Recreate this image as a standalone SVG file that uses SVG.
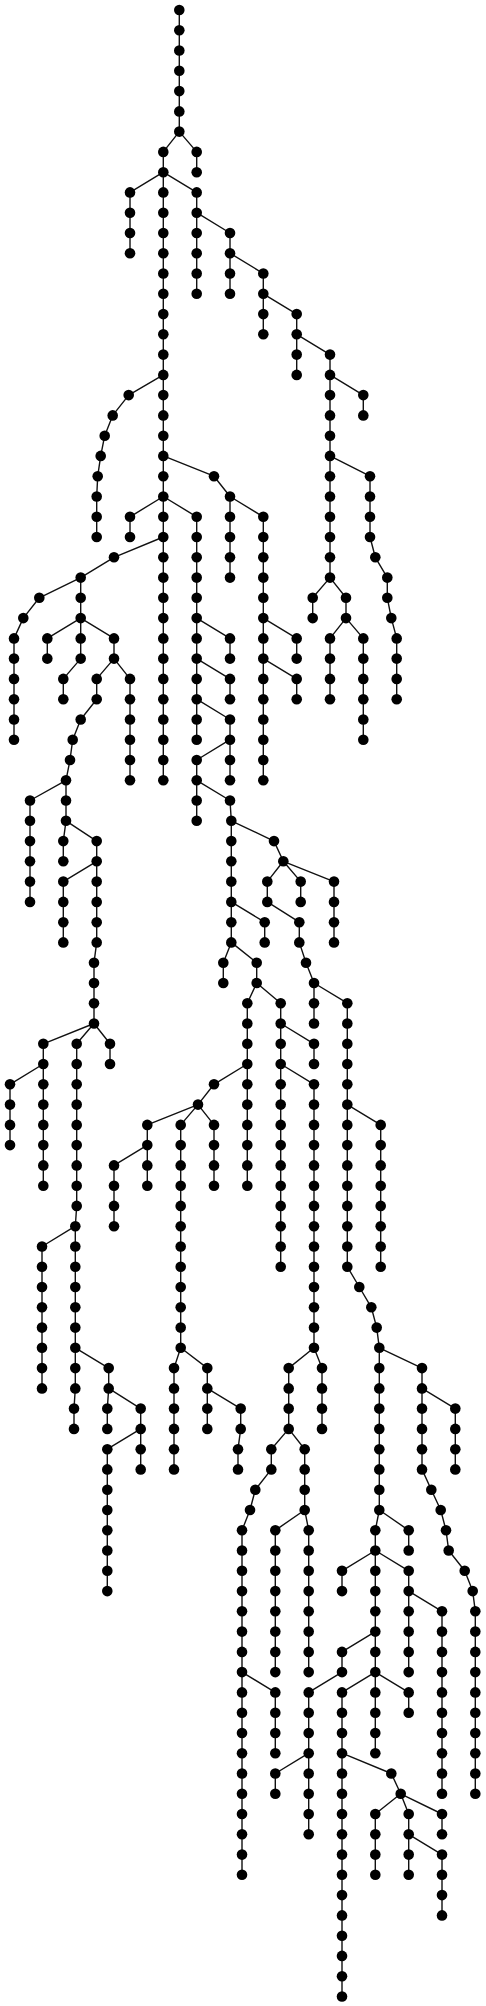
<svg xmlns="http://www.w3.org/2000/svg" width="486" height="2006" viewBox="0 0 486 2006">
<style>
.e path{fill:none;stroke:#111;stroke-width:1.4;stroke-linejoin:round}
.n circle{fill:#000}
</style>
<rect width="486" height="2006" fill="#fff"/>
<g class="e" id="edges">
<path d="M179.3 10 V131.6 L163.3 151.9 V780.3"/>
<path d="M179.3 131.6 L196.7 151.9 V172.2"/>
<path d="M163.3 172.2 L130 192.4 V253.2"/>
<path d="M163.3 172.2 L196.7 192.4 V293.8"/>
<path d="M196.7 212.7 L230 233 V293.8"/>
<path d="M230 253.2 L263.3 273.5 V334.3"/>
<path d="M263.3 293.8 L296.7 314.1 V374.9"/>
<path d="M296.7 334.3 L330 354.6 V577.6"/>
<path d="M330 374.9 L363.3 395.1 V415.4"/>
<path d="M330 455.9 L370 476.2 V537 L375.3 557.3 L387.3 577.6 V597.8 L391.3 618.1 L396.7 638.4 V699.2"/>
<path d="M330 577.6 L312.7 597.8 V618.1"/>
<path d="M330 577.6 L346 597.8 V618.1 L330 638.4 V699.2"/>
<path d="M346 618.1 L363.3 638.4 V739.7"/>
<path d="M163.3 374.9 L128.7 395.1 L112.7 415.4 L104.7 435.7 L100.7 455.9 L97.7 476.2 L96.7 496.5 V537"/>
<path d="M163.3 455.9 L214 476.2 L230 496.5 V577.6"/>
<path d="M230 496.5 L263.3 516.8 V780.3"/>
<path d="M263.3 618.1 L296.7 638.4 V658.6"/>
<path d="M263.3 658.6 L296.7 678.9 V699.2"/>
<path d="M163.3 496.5 L130 516.8 V537"/>
<path d="M163.3 496.5 L196.7 516.8 V739.7"/>
<path d="M196.7 618.1 L230 638.4 V658.6"/>
<path d="M196.7 658.6 L230 678.9 V699.2"/>
<path d="M196.7 699.2 L230 719.5 V780.3"/>
<path d="M230 739.7 L196.7 760 V820.8"/>
<path d="M196.7 780.3 L230 800.5 L231.3 820.8 V942.4"/>
<path d="M163.3 537 L114 557.3 L80.7 577.6 L39.3 597.8 L23.3 618.1 L14 638.4 V739.7"/>
<path d="M80.7 577.6 V618.1"/>
<path d="M80.7 618.1 L47.3 638.4 V658.6"/>
<path d="M80.7 618.1 V658.6 L63.3 678.9 V699.2"/>
<path d="M80.7 618.1 L114 638.4 V658.6 L96.7 678.9 V699.2 L80.7 719.5 L72.7 739.7 L70 760 L66 780.3 V820.8 L63.3 841.1 V861.3"/>
<path d="M114 658.6 L130 678.9 V780.3"/>
<path d="M66 780.3 L30 800.5 V901.9"/>
<path d="M66 820.8 L96.7 841.1 V861.3 L63.3 881.6 V942.4"/>
<path d="M96.7 861.3 V942.4 L94 962.7 V1023.5"/>
<path d="M94 1023.5 L43.3 1043.8 V1064 L10 1084.3 V1145.1"/>
<path d="M43.3 1064 V1185.7"/>
<path d="M94 1023.5 L76.7 1043.8 V1205.9 L75.3 1226.2 L42 1246.5 V1388.4"/>
<path d="M75.3 1226.2 V1388.4 L74 1408.6 V1428.9"/>
<path d="M94 1023.5 L110 1043.8 V1064"/>
<path d="M75.3 1347.8 L108.7 1368.1 V1388.4 L107.3 1408.6 V1428.9"/>
<path d="M108.7 1388.4 L140.7 1408.6 V1469.4"/>
<path d="M140.7 1428.9 L107.3 1449.2 V1591.1"/>
<path d="M231.3 820.8 L274 841.1 L283.3 861.3 L267.3 881.6 V901.9 L299.3 922.2 V942.4 L306 962.7 L314 983 V1023.5"/>
<path d="M283.3 861.3 L300.7 881.6 V901.9"/>
<path d="M283.3 861.3 L334 881.6 V942.4"/>
<path d="M231.3 901.9 L264.7 922.2 V942.4"/>
<path d="M231.3 942.4 L223.3 962.7 V983"/>
<path d="M231.3 942.4 L256.7 962.7 V983 L247.3 1003.2 V1064 L214 1084.3 L198 1104.6 L147.3 1124.9 V1185.7"/>
<path d="M147.3 1145.1 L114 1165.4 V1226.2"/>
<path d="M198 1104.6 L180.7 1124.9 V1347.8 L174 1368.1 V1469.4"/>
<path d="M180.7 1347.8 L207.3 1368.1 V1428.9"/>
<path d="M207.3 1388.4 L240.7 1408.6 V1428.9 L238 1449.2 V1469.4"/>
<path d="M198 1104.6 L214 1124.9 V1185.7"/>
<path d="M247.3 1064 V1185.7"/>
<path d="M256.7 983 L280.7 1003.2 V1266.7"/>
<path d="M280.7 1023.5 L314 1043.8 V1064"/>
<path d="M280.7 1064 L314 1084.3 V1347.8 L288.7 1368.1 V1428.9 L271.3 1449.2 V1469.4 L255.3 1489.7 L250 1510 L242 1530.3 V1874.8"/>
<path d="M242 1672.1 L275.3 1692.4 V1753.2"/>
<path d="M288.7 1428.9 L304.7 1449.2 V1510 L275.3 1530.3 V1672.1"/>
<path d="M304.7 1510 L308.7 1530.3 V1672.1"/>
<path d="M314 1347.8 L322 1368.1 V1428.9"/>
<path d="M314 983 L347.3 1003.2 V1104.6 L380.7 1124.9 V1266.7"/>
<path d="M347.3 1104.6 V1266.7 L359.3 1287 L371.3 1307.3 L376.7 1327.6 L379.3 1347.8 V1510 L375.3 1530.3 V1550.5 L342 1570.8 V1591.1"/>
<path d="M379.3 1347.8 L422 1368.1 V1388.4 L455.3 1408.6 V1469.4"/>
<path d="M422 1388.4 V1469.4 L431.3 1489.7 L440.7 1510 L446 1530.3 L448.7 1550.5 L464.7 1570.8 L472.7 1591.1 L475.3 1611.3 V1793.8"/>
<path d="M379.3 1510 L408.7 1530.3 V1550.5"/>
<path d="M375.3 1550.5 V1631.6 L342 1651.9 V1672.1 L308.7 1692.4 V1753.2 L275.3 1773.5 V1793.8"/>
<path d="M308.7 1753.2 V1834.3"/>
<path d="M375.3 1631.6 V1672.1 L342 1692.4 V1996.5"/>
<path d="M375.3 1672.1 V1753.2"/>
<path d="M375.3 1672.1 L408.7 1692.4 V1712.7"/>
<path d="M342 1753.2 L391.3 1773.5 L400.7 1793.8 L375.3 1814 V1874.8"/>
<path d="M400.7 1793.8 L408.7 1814 V1874.8"/>
<path d="M408.7 1834.3 L442 1854.6 V1915.4"/>
<path d="M400.7 1793.8 L442 1814 V1834.3"/>
<path d="M375.3 1550.5 L408.7 1570.8 V1672.1"/>
<path d="M408.7 1591.1 L442 1611.3 V1793.8"/>
</g>
<g class="n" id="nodes">
<g id="n0-538"><circle cx="179.3" cy="10" r="5.3"/></g>
<g id="n1-538"><circle cx="179.3" cy="30.3" r="5.3"/></g>
<g id="n2-538"><circle cx="179.3" cy="50.5" r="5.3"/></g>
<g id="n3-538"><circle cx="179.3" cy="70.8" r="5.3"/></g>
<g id="n4-538"><circle cx="179.3" cy="91.1" r="5.3"/></g>
<g id="n5-538"><circle cx="179.3" cy="111.4" r="5.3"/></g>
<g id="n6-538"><circle cx="179.3" cy="131.6" r="5.3"/></g>
<g id="n7-590"><circle cx="196.7" cy="151.9" r="5.3"/></g>
<g id="n8-590"><circle cx="196.7" cy="172.2" r="5.3"/></g>
<g id="n7-490"><circle cx="163.3" cy="151.9" r="5.3"/></g>
<g id="n8-490"><circle cx="163.3" cy="172.2" r="5.3"/></g>
<g id="n9-490"><circle cx="163.3" cy="192.4" r="5.3"/></g>
<g id="n10-490"><circle cx="163.3" cy="212.7" r="5.3"/></g>
<g id="n11-490"><circle cx="163.3" cy="233" r="5.3"/></g>
<g id="n12-490"><circle cx="163.3" cy="253.2" r="5.3"/></g>
<g id="n13-490"><circle cx="163.3" cy="273.5" r="5.3"/></g>
<g id="n14-490"><circle cx="163.3" cy="293.8" r="5.3"/></g>
<g id="n15-490"><circle cx="163.3" cy="314.1" r="5.3"/></g>
<g id="n16-490"><circle cx="163.3" cy="334.3" r="5.3"/></g>
<g id="n17-490"><circle cx="163.3" cy="354.6" r="5.3"/></g>
<g id="n18-490"><circle cx="163.3" cy="374.9" r="5.3"/></g>
<g id="n19-490"><circle cx="163.3" cy="395.1" r="5.3"/></g>
<g id="n20-490"><circle cx="163.3" cy="415.4" r="5.3"/></g>
<g id="n21-490"><circle cx="163.3" cy="435.7" r="5.3"/></g>
<g id="n22-490"><circle cx="163.3" cy="455.9" r="5.3"/></g>
<g id="n23-490"><circle cx="163.3" cy="476.2" r="5.3"/></g>
<g id="n24-490"><circle cx="163.3" cy="496.5" r="5.3"/></g>
<g id="n25-490"><circle cx="163.3" cy="516.8" r="5.3"/></g>
<g id="n26-490"><circle cx="163.3" cy="537" r="5.3"/></g>
<g id="n27-490"><circle cx="163.3" cy="557.3" r="5.3"/></g>
<g id="n28-490"><circle cx="163.3" cy="577.6" r="5.3"/></g>
<g id="n29-490"><circle cx="163.3" cy="597.8" r="5.3"/></g>
<g id="n30-490"><circle cx="163.3" cy="618.1" r="5.3"/></g>
<g id="n31-490"><circle cx="163.3" cy="638.4" r="5.3"/></g>
<g id="n32-490"><circle cx="163.3" cy="658.6" r="5.3"/></g>
<g id="n33-490"><circle cx="163.3" cy="678.9" r="5.3"/></g>
<g id="n34-490"><circle cx="163.3" cy="699.2" r="5.3"/></g>
<g id="n35-490"><circle cx="163.3" cy="719.5" r="5.3"/></g>
<g id="n36-490"><circle cx="163.3" cy="739.7" r="5.3"/></g>
<g id="n37-490"><circle cx="163.3" cy="760" r="5.3"/></g>
<g id="n38-490"><circle cx="163.3" cy="780.3" r="5.3"/></g>
<g id="n9-390"><circle cx="130" cy="192.4" r="5.3"/></g>
<g id="n10-390"><circle cx="130" cy="212.7" r="5.3"/></g>
<g id="n11-390"><circle cx="130" cy="233" r="5.3"/></g>
<g id="n12-390"><circle cx="130" cy="253.2" r="5.3"/></g>
<g id="n9-590"><circle cx="196.7" cy="192.4" r="5.3"/></g>
<g id="n10-590"><circle cx="196.7" cy="212.7" r="5.3"/></g>
<g id="n11-590"><circle cx="196.7" cy="233" r="5.3"/></g>
<g id="n12-590"><circle cx="196.7" cy="253.2" r="5.3"/></g>
<g id="n13-590"><circle cx="196.7" cy="273.5" r="5.3"/></g>
<g id="n14-590"><circle cx="196.7" cy="293.8" r="5.3"/></g>
<g id="n11-690"><circle cx="230" cy="233" r="5.3"/></g>
<g id="n12-690"><circle cx="230" cy="253.2" r="5.3"/></g>
<g id="n13-690"><circle cx="230" cy="273.5" r="5.3"/></g>
<g id="n14-690"><circle cx="230" cy="293.8" r="5.3"/></g>
<g id="n13-790"><circle cx="263.3" cy="273.5" r="5.3"/></g>
<g id="n14-790"><circle cx="263.3" cy="293.8" r="5.3"/></g>
<g id="n15-790"><circle cx="263.3" cy="314.1" r="5.3"/></g>
<g id="n16-790"><circle cx="263.3" cy="334.3" r="5.3"/></g>
<g id="n15-890"><circle cx="296.7" cy="314.1" r="5.3"/></g>
<g id="n16-890"><circle cx="296.7" cy="334.3" r="5.3"/></g>
<g id="n17-890"><circle cx="296.7" cy="354.6" r="5.3"/></g>
<g id="n18-890"><circle cx="296.7" cy="374.9" r="5.3"/></g>
<g id="n17-990"><circle cx="330" cy="354.6" r="5.3"/></g>
<g id="n18-990"><circle cx="330" cy="374.9" r="5.3"/></g>
<g id="n19-990"><circle cx="330" cy="395.1" r="5.3"/></g>
<g id="n20-990"><circle cx="330" cy="415.4" r="5.3"/></g>
<g id="n21-990"><circle cx="330" cy="435.7" r="5.3"/></g>
<g id="n22-990"><circle cx="330" cy="455.9" r="5.3"/></g>
<g id="n23-990"><circle cx="330" cy="476.2" r="5.3"/></g>
<g id="n24-990"><circle cx="330" cy="496.5" r="5.3"/></g>
<g id="n25-990"><circle cx="330" cy="516.8" r="5.3"/></g>
<g id="n26-990"><circle cx="330" cy="537" r="5.3"/></g>
<g id="n27-990"><circle cx="330" cy="557.3" r="5.3"/></g>
<g id="n28-990"><circle cx="330" cy="577.6" r="5.3"/></g>
<g id="n19-1090"><circle cx="363.3" cy="395.1" r="5.3"/></g>
<g id="n20-1090"><circle cx="363.3" cy="415.4" r="5.3"/></g>
<g id="n23-1110"><circle cx="370" cy="476.2" r="5.3"/></g>
<g id="n24-1110"><circle cx="370" cy="496.5" r="5.3"/></g>
<g id="n25-1110"><circle cx="370" cy="516.8" r="5.3"/></g>
<g id="n26-1110"><circle cx="370" cy="537" r="5.3"/></g>
<g id="n27-1126"><circle cx="375.3" cy="557.3" r="5.3"/></g>
<g id="n28-1162"><circle cx="387.3" cy="577.6" r="5.3"/></g>
<g id="n29-1162"><circle cx="387.3" cy="597.8" r="5.3"/></g>
<g id="n30-1174"><circle cx="391.3" cy="618.1" r="5.3"/></g>
<g id="n31-1190"><circle cx="396.7" cy="638.4" r="5.3"/></g>
<g id="n32-1190"><circle cx="396.7" cy="658.6" r="5.3"/></g>
<g id="n33-1190"><circle cx="396.7" cy="678.9" r="5.3"/></g>
<g id="n34-1190"><circle cx="396.7" cy="699.2" r="5.3"/></g>
<g id="n29-938"><circle cx="312.7" cy="597.8" r="5.3"/></g>
<g id="n30-938"><circle cx="312.7" cy="618.1" r="5.3"/></g>
<g id="n29-1038"><circle cx="346" cy="597.8" r="5.3"/></g>
<g id="n30-1038"><circle cx="346" cy="618.1" r="5.3"/></g>
<g id="n31-990"><circle cx="330" cy="638.4" r="5.3"/></g>
<g id="n32-990"><circle cx="330" cy="658.6" r="5.3"/></g>
<g id="n33-990"><circle cx="330" cy="678.9" r="5.3"/></g>
<g id="n34-990"><circle cx="330" cy="699.2" r="5.3"/></g>
<g id="n31-1090"><circle cx="363.3" cy="638.4" r="5.3"/></g>
<g id="n32-1090"><circle cx="363.3" cy="658.6" r="5.3"/></g>
<g id="n33-1090"><circle cx="363.3" cy="678.9" r="5.3"/></g>
<g id="n34-1090"><circle cx="363.3" cy="699.2" r="5.3"/></g>
<g id="n35-1090"><circle cx="363.3" cy="719.5" r="5.3"/></g>
<g id="n36-1090"><circle cx="363.3" cy="739.7" r="5.3"/></g>
<g id="n19-386"><circle cx="128.7" cy="395.1" r="5.3"/></g>
<g id="n20-338"><circle cx="112.7" cy="415.4" r="5.3"/></g>
<g id="n21-314"><circle cx="104.7" cy="435.7" r="5.3"/></g>
<g id="n22-302"><circle cx="100.7" cy="455.9" r="5.3"/></g>
<g id="n23-293"><circle cx="97.7" cy="476.2" r="5.3"/></g>
<g id="n24-290"><circle cx="96.7" cy="496.5" r="5.3"/></g>
<g id="n25-290"><circle cx="96.7" cy="516.8" r="5.3"/></g>
<g id="n26-290"><circle cx="96.7" cy="537" r="5.3"/></g>
<g id="n23-642"><circle cx="214" cy="476.2" r="5.3"/></g>
<g id="n24-690"><circle cx="230" cy="496.5" r="5.3"/></g>
<g id="n25-690"><circle cx="230" cy="516.8" r="5.3"/></g>
<g id="n26-690"><circle cx="230" cy="537" r="5.3"/></g>
<g id="n27-690"><circle cx="230" cy="557.3" r="5.3"/></g>
<g id="n28-690"><circle cx="230" cy="577.6" r="5.3"/></g>
<g id="n25-790"><circle cx="263.3" cy="516.8" r="5.3"/></g>
<g id="n26-790"><circle cx="263.3" cy="537" r="5.3"/></g>
<g id="n27-790"><circle cx="263.3" cy="557.3" r="5.3"/></g>
<g id="n28-790"><circle cx="263.3" cy="577.6" r="5.3"/></g>
<g id="n29-790"><circle cx="263.3" cy="597.8" r="5.3"/></g>
<g id="n30-790"><circle cx="263.3" cy="618.1" r="5.3"/></g>
<g id="n31-790"><circle cx="263.3" cy="638.4" r="5.3"/></g>
<g id="n32-790"><circle cx="263.3" cy="658.6" r="5.3"/></g>
<g id="n33-790"><circle cx="263.3" cy="678.9" r="5.3"/></g>
<g id="n34-790"><circle cx="263.3" cy="699.2" r="5.3"/></g>
<g id="n35-790"><circle cx="263.3" cy="719.5" r="5.3"/></g>
<g id="n36-790"><circle cx="263.3" cy="739.7" r="5.3"/></g>
<g id="n37-790"><circle cx="263.3" cy="760" r="5.3"/></g>
<g id="n38-790"><circle cx="263.3" cy="780.3" r="5.3"/></g>
<g id="n31-890"><circle cx="296.7" cy="638.4" r="5.3"/></g>
<g id="n32-890"><circle cx="296.7" cy="658.6" r="5.3"/></g>
<g id="n33-890"><circle cx="296.7" cy="678.9" r="5.3"/></g>
<g id="n34-890"><circle cx="296.7" cy="699.2" r="5.3"/></g>
<g id="n25-390"><circle cx="130" cy="516.8" r="5.3"/></g>
<g id="n26-390"><circle cx="130" cy="537" r="5.3"/></g>
<g id="n25-590"><circle cx="196.7" cy="516.8" r="5.3"/></g>
<g id="n26-590"><circle cx="196.7" cy="537" r="5.3"/></g>
<g id="n27-590"><circle cx="196.7" cy="557.3" r="5.3"/></g>
<g id="n28-590"><circle cx="196.7" cy="577.6" r="5.3"/></g>
<g id="n29-590"><circle cx="196.7" cy="597.8" r="5.3"/></g>
<g id="n30-590"><circle cx="196.7" cy="618.1" r="5.3"/></g>
<g id="n31-590"><circle cx="196.7" cy="638.4" r="5.3"/></g>
<g id="n32-590"><circle cx="196.7" cy="658.6" r="5.3"/></g>
<g id="n33-590"><circle cx="196.7" cy="678.9" r="5.3"/></g>
<g id="n34-590"><circle cx="196.7" cy="699.2" r="5.3"/></g>
<g id="n35-590"><circle cx="196.7" cy="719.5" r="5.3"/></g>
<g id="n36-590"><circle cx="196.7" cy="739.7" r="5.3"/></g>
<g id="n31-690"><circle cx="230" cy="638.4" r="5.3"/></g>
<g id="n32-690"><circle cx="230" cy="658.6" r="5.3"/></g>
<g id="n33-690"><circle cx="230" cy="678.9" r="5.3"/></g>
<g id="n34-690"><circle cx="230" cy="699.2" r="5.3"/></g>
<g id="n35-690"><circle cx="230" cy="719.5" r="5.3"/></g>
<g id="n36-690"><circle cx="230" cy="739.7" r="5.3"/></g>
<g id="n37-690"><circle cx="230" cy="760" r="5.3"/></g>
<g id="n38-690"><circle cx="230" cy="780.3" r="5.3"/></g>
<g id="n37-590"><circle cx="196.7" cy="760" r="5.3"/></g>
<g id="n38-590"><circle cx="196.7" cy="780.3" r="5.3"/></g>
<g id="n39-590"><circle cx="196.7" cy="800.5" r="5.3"/></g>
<g id="n40-590"><circle cx="196.7" cy="820.8" r="5.3"/></g>
<g id="n39-690"><circle cx="230" cy="800.5" r="5.3"/></g>
<g id="n40-694"><circle cx="231.3" cy="820.8" r="5.3"/></g>
<g id="n41-694"><circle cx="231.3" cy="841.1" r="5.3"/></g>
<g id="n42-694"><circle cx="231.3" cy="861.3" r="5.3"/></g>
<g id="n43-694"><circle cx="231.3" cy="881.6" r="5.3"/></g>
<g id="n44-694"><circle cx="231.3" cy="901.9" r="5.3"/></g>
<g id="n45-694"><circle cx="231.3" cy="922.2" r="5.3"/></g>
<g id="n46-694"><circle cx="231.3" cy="942.4" r="5.3"/></g>
<g id="n27-342"><circle cx="114" cy="557.3" r="5.3"/></g>
<g id="n28-242"><circle cx="80.7" cy="577.6" r="5.3"/></g>
<g id="n29-118"><circle cx="39.3" cy="597.8" r="5.3"/></g>
<g id="n30-70"><circle cx="23.3" cy="618.1" r="5.3"/></g>
<g id="n31-42"><circle cx="14" cy="638.4" r="5.3"/></g>
<g id="n32-42"><circle cx="14" cy="658.6" r="5.3"/></g>
<g id="n33-42"><circle cx="14" cy="678.9" r="5.3"/></g>
<g id="n34-42"><circle cx="14" cy="699.2" r="5.3"/></g>
<g id="n35-42"><circle cx="14" cy="719.5" r="5.3"/></g>
<g id="n36-42"><circle cx="14" cy="739.7" r="5.3"/></g>
<g id="n29-242"><circle cx="80.7" cy="597.8" r="5.3"/></g>
<g id="n30-242"><circle cx="80.7" cy="618.1" r="5.3"/></g>
<g id="n31-142"><circle cx="47.3" cy="638.4" r="5.3"/></g>
<g id="n32-142"><circle cx="47.3" cy="658.6" r="5.3"/></g>
<g id="n31-242"><circle cx="80.7" cy="638.4" r="5.3"/></g>
<g id="n32-242"><circle cx="80.7" cy="658.6" r="5.3"/></g>
<g id="n33-190"><circle cx="63.3" cy="678.9" r="5.3"/></g>
<g id="n34-190"><circle cx="63.3" cy="699.2" r="5.3"/></g>
<g id="n31-342"><circle cx="114" cy="638.4" r="5.3"/></g>
<g id="n32-342"><circle cx="114" cy="658.6" r="5.3"/></g>
<g id="n33-290"><circle cx="96.7" cy="678.9" r="5.3"/></g>
<g id="n34-290"><circle cx="96.7" cy="699.2" r="5.3"/></g>
<g id="n35-242"><circle cx="80.7" cy="719.5" r="5.3"/></g>
<g id="n36-218"><circle cx="72.7" cy="739.7" r="5.3"/></g>
<g id="n37-210"><circle cx="70" cy="760" r="5.3"/></g>
<g id="n38-198"><circle cx="66" cy="780.3" r="5.3"/></g>
<g id="n39-198"><circle cx="66" cy="800.5" r="5.3"/></g>
<g id="n40-198"><circle cx="66" cy="820.8" r="5.3"/></g>
<g id="n41-190"><circle cx="63.3" cy="841.1" r="5.3"/></g>
<g id="n42-190"><circle cx="63.3" cy="861.3" r="5.3"/></g>
<g id="n33-390"><circle cx="130" cy="678.9" r="5.3"/></g>
<g id="n34-390"><circle cx="130" cy="699.2" r="5.3"/></g>
<g id="n35-390"><circle cx="130" cy="719.5" r="5.3"/></g>
<g id="n36-390"><circle cx="130" cy="739.7" r="5.3"/></g>
<g id="n37-390"><circle cx="130" cy="760" r="5.3"/></g>
<g id="n38-390"><circle cx="130" cy="780.3" r="5.3"/></g>
<g id="n39-90"><circle cx="30" cy="800.5" r="5.3"/></g>
<g id="n40-90"><circle cx="30" cy="820.8" r="5.3"/></g>
<g id="n41-90"><circle cx="30" cy="841.1" r="5.3"/></g>
<g id="n42-90"><circle cx="30" cy="861.3" r="5.3"/></g>
<g id="n43-90"><circle cx="30" cy="881.6" r="5.3"/></g>
<g id="n44-90"><circle cx="30" cy="901.9" r="5.3"/></g>
<g id="n41-290"><circle cx="96.7" cy="841.1" r="5.3"/></g>
<g id="n42-290"><circle cx="96.7" cy="861.3" r="5.3"/></g>
<g id="n43-190"><circle cx="63.3" cy="881.6" r="5.3"/></g>
<g id="n44-190"><circle cx="63.3" cy="901.9" r="5.3"/></g>
<g id="n45-190"><circle cx="63.3" cy="922.2" r="5.3"/></g>
<g id="n46-190"><circle cx="63.3" cy="942.4" r="5.3"/></g>
<g id="n43-290"><circle cx="96.7" cy="881.6" r="5.3"/></g>
<g id="n44-290"><circle cx="96.7" cy="901.9" r="5.3"/></g>
<g id="n45-290"><circle cx="96.7" cy="922.2" r="5.3"/></g>
<g id="n46-290"><circle cx="96.7" cy="942.4" r="5.3"/></g>
<g id="n47-282"><circle cx="94" cy="962.7" r="5.3"/></g>
<g id="n48-282"><circle cx="94" cy="983" r="5.3"/></g>
<g id="n49-282"><circle cx="94" cy="1003.2" r="5.3"/></g>
<g id="n50-282"><circle cx="94" cy="1023.5" r="5.3"/></g>
<g id="n51-130"><circle cx="43.3" cy="1043.8" r="5.3"/></g>
<g id="n52-130"><circle cx="43.3" cy="1064" r="5.3"/></g>
<g id="n53-30"><circle cx="10" cy="1084.3" r="5.3"/></g>
<g id="n54-30"><circle cx="10" cy="1104.6" r="5.3"/></g>
<g id="n55-30"><circle cx="10" cy="1124.9" r="5.3"/></g>
<g id="n56-30"><circle cx="10" cy="1145.1" r="5.3"/></g>
<g id="n53-130"><circle cx="43.3" cy="1084.3" r="5.3"/></g>
<g id="n54-130"><circle cx="43.3" cy="1104.6" r="5.3"/></g>
<g id="n55-130"><circle cx="43.3" cy="1124.9" r="5.3"/></g>
<g id="n56-130"><circle cx="43.3" cy="1145.1" r="5.3"/></g>
<g id="n57-130"><circle cx="43.3" cy="1165.4" r="5.3"/></g>
<g id="n58-130"><circle cx="43.3" cy="1185.7" r="5.3"/></g>
<g id="n51-230"><circle cx="76.7" cy="1043.8" r="5.3"/></g>
<g id="n52-230"><circle cx="76.7" cy="1064" r="5.3"/></g>
<g id="n53-230"><circle cx="76.7" cy="1084.3" r="5.3"/></g>
<g id="n54-230"><circle cx="76.7" cy="1104.6" r="5.3"/></g>
<g id="n55-230"><circle cx="76.7" cy="1124.9" r="5.3"/></g>
<g id="n56-230"><circle cx="76.7" cy="1145.1" r="5.3"/></g>
<g id="n57-230"><circle cx="76.7" cy="1165.4" r="5.3"/></g>
<g id="n58-230"><circle cx="76.7" cy="1185.7" r="5.3"/></g>
<g id="n59-230"><circle cx="76.7" cy="1205.9" r="5.3"/></g>
<g id="n60-226"><circle cx="75.3" cy="1226.2" r="5.3"/></g>
<g id="n61-126"><circle cx="42" cy="1246.5" r="5.3"/></g>
<g id="n62-126"><circle cx="42" cy="1266.7" r="5.3"/></g>
<g id="n63-126"><circle cx="42" cy="1287" r="5.3"/></g>
<g id="n64-126"><circle cx="42" cy="1307.3" r="5.3"/></g>
<g id="n65-126"><circle cx="42" cy="1327.6" r="5.3"/></g>
<g id="n66-126"><circle cx="42" cy="1347.8" r="5.3"/></g>
<g id="n67-126"><circle cx="42" cy="1368.1" r="5.3"/></g>
<g id="n68-126"><circle cx="42" cy="1388.4" r="5.3"/></g>
<g id="n61-226"><circle cx="75.3" cy="1246.5" r="5.3"/></g>
<g id="n62-226"><circle cx="75.3" cy="1266.7" r="5.3"/></g>
<g id="n63-226"><circle cx="75.3" cy="1287" r="5.3"/></g>
<g id="n64-226"><circle cx="75.3" cy="1307.3" r="5.3"/></g>
<g id="n65-226"><circle cx="75.3" cy="1327.6" r="5.3"/></g>
<g id="n66-226"><circle cx="75.3" cy="1347.8" r="5.3"/></g>
<g id="n67-226"><circle cx="75.3" cy="1368.1" r="5.3"/></g>
<g id="n68-226"><circle cx="75.3" cy="1388.4" r="5.3"/></g>
<g id="n69-222"><circle cx="74" cy="1408.6" r="5.3"/></g>
<g id="n70-222"><circle cx="74" cy="1428.9" r="5.3"/></g>
<g id="n51-330"><circle cx="110" cy="1043.8" r="5.3"/></g>
<g id="n52-330"><circle cx="110" cy="1064" r="5.3"/></g>
<g id="n67-326"><circle cx="108.7" cy="1368.1" r="5.3"/></g>
<g id="n68-326"><circle cx="108.7" cy="1388.4" r="5.3"/></g>
<g id="n69-322"><circle cx="107.3" cy="1408.6" r="5.3"/></g>
<g id="n70-322"><circle cx="107.3" cy="1428.9" r="5.3"/></g>
<g id="n69-422"><circle cx="140.7" cy="1408.6" r="5.3"/></g>
<g id="n70-422"><circle cx="140.7" cy="1428.9" r="5.3"/></g>
<g id="n71-422"><circle cx="140.7" cy="1449.2" r="5.3"/></g>
<g id="n72-422"><circle cx="140.7" cy="1469.4" r="5.3"/></g>
<g id="n71-322"><circle cx="107.3" cy="1449.2" r="5.3"/></g>
<g id="n72-322"><circle cx="107.3" cy="1469.4" r="5.3"/></g>
<g id="n73-322"><circle cx="107.3" cy="1489.7" r="5.3"/></g>
<g id="n74-322"><circle cx="107.3" cy="1510" r="5.3"/></g>
<g id="n75-322"><circle cx="107.3" cy="1530.3" r="5.3"/></g>
<g id="n76-322"><circle cx="107.3" cy="1550.5" r="5.3"/></g>
<g id="n77-322"><circle cx="107.3" cy="1570.8" r="5.3"/></g>
<g id="n78-322"><circle cx="107.3" cy="1591.1" r="5.3"/></g>
<g id="n41-822"><circle cx="274" cy="841.1" r="5.3"/></g>
<g id="n42-850"><circle cx="283.3" cy="861.3" r="5.3"/></g>
<g id="n43-802"><circle cx="267.3" cy="881.6" r="5.3"/></g>
<g id="n44-802"><circle cx="267.3" cy="901.9" r="5.3"/></g>
<g id="n45-898"><circle cx="299.3" cy="922.2" r="5.3"/></g>
<g id="n46-898"><circle cx="299.3" cy="942.4" r="5.3"/></g>
<g id="n47-918"><circle cx="306" cy="962.7" r="5.3"/></g>
<g id="n48-942"><circle cx="314" cy="983" r="5.3"/></g>
<g id="n49-942"><circle cx="314" cy="1003.2" r="5.3"/></g>
<g id="n50-942"><circle cx="314" cy="1023.5" r="5.3"/></g>
<g id="n43-902"><circle cx="300.7" cy="881.6" r="5.3"/></g>
<g id="n44-902"><circle cx="300.7" cy="901.9" r="5.3"/></g>
<g id="n43-1002"><circle cx="334" cy="881.6" r="5.3"/></g>
<g id="n44-1002"><circle cx="334" cy="901.9" r="5.3"/></g>
<g id="n45-1002"><circle cx="334" cy="922.2" r="5.3"/></g>
<g id="n46-1002"><circle cx="334" cy="942.4" r="5.3"/></g>
<g id="n45-794"><circle cx="264.7" cy="922.2" r="5.3"/></g>
<g id="n46-794"><circle cx="264.7" cy="942.4" r="5.3"/></g>
<g id="n47-670"><circle cx="223.3" cy="962.7" r="5.3"/></g>
<g id="n48-670"><circle cx="223.3" cy="983" r="5.3"/></g>
<g id="n47-770"><circle cx="256.7" cy="962.7" r="5.3"/></g>
<g id="n48-770"><circle cx="256.7" cy="983" r="5.3"/></g>
<g id="n49-742"><circle cx="247.3" cy="1003.2" r="5.3"/></g>
<g id="n50-742"><circle cx="247.3" cy="1023.5" r="5.3"/></g>
<g id="n51-742"><circle cx="247.3" cy="1043.8" r="5.3"/></g>
<g id="n52-742"><circle cx="247.3" cy="1064" r="5.3"/></g>
<g id="n53-642"><circle cx="214" cy="1084.3" r="5.3"/></g>
<g id="n54-594"><circle cx="198" cy="1104.6" r="5.3"/></g>
<g id="n55-442"><circle cx="147.3" cy="1124.9" r="5.3"/></g>
<g id="n56-442"><circle cx="147.3" cy="1145.1" r="5.3"/></g>
<g id="n57-442"><circle cx="147.3" cy="1165.4" r="5.3"/></g>
<g id="n58-442"><circle cx="147.3" cy="1185.7" r="5.3"/></g>
<g id="n57-342"><circle cx="114" cy="1165.4" r="5.3"/></g>
<g id="n58-342"><circle cx="114" cy="1185.7" r="5.3"/></g>
<g id="n59-342"><circle cx="114" cy="1205.9" r="5.3"/></g>
<g id="n60-342"><circle cx="114" cy="1226.2" r="5.3"/></g>
<g id="n55-542"><circle cx="180.7" cy="1124.9" r="5.3"/></g>
<g id="n56-542"><circle cx="180.7" cy="1145.1" r="5.3"/></g>
<g id="n57-542"><circle cx="180.7" cy="1165.4" r="5.3"/></g>
<g id="n58-542"><circle cx="180.7" cy="1185.7" r="5.3"/></g>
<g id="n59-542"><circle cx="180.7" cy="1205.9" r="5.3"/></g>
<g id="n60-542"><circle cx="180.7" cy="1226.2" r="5.3"/></g>
<g id="n61-542"><circle cx="180.7" cy="1246.5" r="5.3"/></g>
<g id="n62-542"><circle cx="180.7" cy="1266.7" r="5.3"/></g>
<g id="n63-542"><circle cx="180.7" cy="1287" r="5.3"/></g>
<g id="n64-542"><circle cx="180.7" cy="1307.3" r="5.3"/></g>
<g id="n65-542"><circle cx="180.7" cy="1327.6" r="5.3"/></g>
<g id="n66-542"><circle cx="180.7" cy="1347.8" r="5.3"/></g>
<g id="n67-522"><circle cx="174" cy="1368.1" r="5.3"/></g>
<g id="n68-522"><circle cx="174" cy="1388.4" r="5.3"/></g>
<g id="n69-522"><circle cx="174" cy="1408.6" r="5.3"/></g>
<g id="n70-522"><circle cx="174" cy="1428.9" r="5.3"/></g>
<g id="n71-522"><circle cx="174" cy="1449.2" r="5.3"/></g>
<g id="n72-522"><circle cx="174" cy="1469.4" r="5.3"/></g>
<g id="n67-622"><circle cx="207.3" cy="1368.1" r="5.3"/></g>
<g id="n68-622"><circle cx="207.3" cy="1388.4" r="5.3"/></g>
<g id="n69-622"><circle cx="207.3" cy="1408.6" r="5.3"/></g>
<g id="n70-622"><circle cx="207.3" cy="1428.9" r="5.3"/></g>
<g id="n69-722"><circle cx="240.7" cy="1408.6" r="5.3"/></g>
<g id="n70-722"><circle cx="240.7" cy="1428.9" r="5.3"/></g>
<g id="n71-714"><circle cx="238" cy="1449.2" r="5.3"/></g>
<g id="n72-714"><circle cx="238" cy="1469.4" r="5.3"/></g>
<g id="n55-642"><circle cx="214" cy="1124.9" r="5.3"/></g>
<g id="n56-642"><circle cx="214" cy="1145.1" r="5.3"/></g>
<g id="n57-642"><circle cx="214" cy="1165.4" r="5.3"/></g>
<g id="n58-642"><circle cx="214" cy="1185.7" r="5.3"/></g>
<g id="n53-742"><circle cx="247.3" cy="1084.3" r="5.3"/></g>
<g id="n54-742"><circle cx="247.3" cy="1104.6" r="5.3"/></g>
<g id="n55-742"><circle cx="247.3" cy="1124.9" r="5.3"/></g>
<g id="n56-742"><circle cx="247.3" cy="1145.1" r="5.3"/></g>
<g id="n57-742"><circle cx="247.3" cy="1165.4" r="5.3"/></g>
<g id="n58-742"><circle cx="247.3" cy="1185.7" r="5.3"/></g>
<g id="n49-842"><circle cx="280.7" cy="1003.2" r="5.3"/></g>
<g id="n50-842"><circle cx="280.7" cy="1023.5" r="5.3"/></g>
<g id="n51-842"><circle cx="280.7" cy="1043.8" r="5.3"/></g>
<g id="n52-842"><circle cx="280.7" cy="1064" r="5.3"/></g>
<g id="n53-842"><circle cx="280.7" cy="1084.3" r="5.3"/></g>
<g id="n54-842"><circle cx="280.7" cy="1104.6" r="5.3"/></g>
<g id="n55-842"><circle cx="280.7" cy="1124.9" r="5.3"/></g>
<g id="n56-842"><circle cx="280.7" cy="1145.1" r="5.3"/></g>
<g id="n57-842"><circle cx="280.7" cy="1165.4" r="5.3"/></g>
<g id="n58-842"><circle cx="280.7" cy="1185.7" r="5.3"/></g>
<g id="n59-842"><circle cx="280.7" cy="1205.9" r="5.3"/></g>
<g id="n60-842"><circle cx="280.7" cy="1226.2" r="5.3"/></g>
<g id="n61-842"><circle cx="280.7" cy="1246.5" r="5.3"/></g>
<g id="n62-842"><circle cx="280.7" cy="1266.7" r="5.3"/></g>
<g id="n51-942"><circle cx="314" cy="1043.8" r="5.3"/></g>
<g id="n52-942"><circle cx="314" cy="1064" r="5.3"/></g>
<g id="n53-942"><circle cx="314" cy="1084.3" r="5.3"/></g>
<g id="n54-942"><circle cx="314" cy="1104.6" r="5.3"/></g>
<g id="n55-942"><circle cx="314" cy="1124.9" r="5.3"/></g>
<g id="n56-942"><circle cx="314" cy="1145.1" r="5.3"/></g>
<g id="n57-942"><circle cx="314" cy="1165.4" r="5.3"/></g>
<g id="n58-942"><circle cx="314" cy="1185.7" r="5.3"/></g>
<g id="n59-942"><circle cx="314" cy="1205.9" r="5.3"/></g>
<g id="n60-942"><circle cx="314" cy="1226.2" r="5.3"/></g>
<g id="n61-942"><circle cx="314" cy="1246.5" r="5.3"/></g>
<g id="n62-942"><circle cx="314" cy="1266.7" r="5.3"/></g>
<g id="n63-942"><circle cx="314" cy="1287" r="5.3"/></g>
<g id="n64-942"><circle cx="314" cy="1307.3" r="5.3"/></g>
<g id="n65-942"><circle cx="314" cy="1327.6" r="5.3"/></g>
<g id="n66-942"><circle cx="314" cy="1347.8" r="5.3"/></g>
<g id="n67-866"><circle cx="288.7" cy="1368.1" r="5.3"/></g>
<g id="n68-866"><circle cx="288.7" cy="1388.4" r="5.3"/></g>
<g id="n69-866"><circle cx="288.7" cy="1408.6" r="5.3"/></g>
<g id="n70-866"><circle cx="288.7" cy="1428.9" r="5.3"/></g>
<g id="n71-814"><circle cx="271.3" cy="1449.2" r="5.3"/></g>
<g id="n72-814"><circle cx="271.3" cy="1469.4" r="5.3"/></g>
<g id="n73-766"><circle cx="255.3" cy="1489.7" r="5.3"/></g>
<g id="n74-750"><circle cx="250" cy="1510" r="5.3"/></g>
<g id="n75-726"><circle cx="242" cy="1530.3" r="5.3"/></g>
<g id="n76-726"><circle cx="242" cy="1550.5" r="5.3"/></g>
<g id="n77-726"><circle cx="242" cy="1570.8" r="5.3"/></g>
<g id="n78-726"><circle cx="242" cy="1591.1" r="5.3"/></g>
<g id="n79-726"><circle cx="242" cy="1611.3" r="5.3"/></g>
<g id="n80-726"><circle cx="242" cy="1631.6" r="5.3"/></g>
<g id="n81-726"><circle cx="242" cy="1651.9" r="5.3"/></g>
<g id="n82-726"><circle cx="242" cy="1672.1" r="5.3"/></g>
<g id="n83-726"><circle cx="242" cy="1692.4" r="5.3"/></g>
<g id="n84-726"><circle cx="242" cy="1712.7" r="5.3"/></g>
<g id="n85-726"><circle cx="242" cy="1733" r="5.3"/></g>
<g id="n86-726"><circle cx="242" cy="1753.2" r="5.3"/></g>
<g id="n87-726"><circle cx="242" cy="1773.5" r="5.3"/></g>
<g id="n88-726"><circle cx="242" cy="1793.8" r="5.3"/></g>
<g id="n89-726"><circle cx="242" cy="1814" r="5.3"/></g>
<g id="n90-726"><circle cx="242" cy="1834.3" r="5.3"/></g>
<g id="n91-726"><circle cx="242" cy="1854.6" r="5.3"/></g>
<g id="n92-726"><circle cx="242" cy="1874.8" r="5.3"/></g>
<g id="n83-826"><circle cx="275.3" cy="1692.4" r="5.3"/></g>
<g id="n84-826"><circle cx="275.3" cy="1712.7" r="5.3"/></g>
<g id="n85-826"><circle cx="275.3" cy="1733" r="5.3"/></g>
<g id="n86-826"><circle cx="275.3" cy="1753.2" r="5.3"/></g>
<g id="n71-914"><circle cx="304.7" cy="1449.2" r="5.3"/></g>
<g id="n72-914"><circle cx="304.7" cy="1469.4" r="5.3"/></g>
<g id="n73-914"><circle cx="304.7" cy="1489.7" r="5.3"/></g>
<g id="n74-914"><circle cx="304.7" cy="1510" r="5.3"/></g>
<g id="n75-826"><circle cx="275.3" cy="1530.3" r="5.3"/></g>
<g id="n76-826"><circle cx="275.3" cy="1550.5" r="5.3"/></g>
<g id="n77-826"><circle cx="275.3" cy="1570.8" r="5.3"/></g>
<g id="n78-826"><circle cx="275.3" cy="1591.1" r="5.3"/></g>
<g id="n79-826"><circle cx="275.3" cy="1611.3" r="5.3"/></g>
<g id="n80-826"><circle cx="275.3" cy="1631.6" r="5.3"/></g>
<g id="n81-826"><circle cx="275.3" cy="1651.9" r="5.3"/></g>
<g id="n82-826"><circle cx="275.3" cy="1672.1" r="5.3"/></g>
<g id="n75-926"><circle cx="308.7" cy="1530.3" r="5.3"/></g>
<g id="n76-926"><circle cx="308.7" cy="1550.5" r="5.3"/></g>
<g id="n77-926"><circle cx="308.7" cy="1570.8" r="5.3"/></g>
<g id="n78-926"><circle cx="308.7" cy="1591.1" r="5.3"/></g>
<g id="n79-926"><circle cx="308.7" cy="1611.3" r="5.3"/></g>
<g id="n80-926"><circle cx="308.7" cy="1631.6" r="5.3"/></g>
<g id="n81-926"><circle cx="308.7" cy="1651.9" r="5.3"/></g>
<g id="n82-926"><circle cx="308.7" cy="1672.1" r="5.3"/></g>
<g id="n67-966"><circle cx="322" cy="1368.1" r="5.3"/></g>
<g id="n68-966"><circle cx="322" cy="1388.4" r="5.3"/></g>
<g id="n69-966"><circle cx="322" cy="1408.6" r="5.3"/></g>
<g id="n70-966"><circle cx="322" cy="1428.9" r="5.3"/></g>
<g id="n49-1042"><circle cx="347.3" cy="1003.2" r="5.3"/></g>
<g id="n50-1042"><circle cx="347.3" cy="1023.5" r="5.3"/></g>
<g id="n51-1042"><circle cx="347.3" cy="1043.8" r="5.3"/></g>
<g id="n52-1042"><circle cx="347.3" cy="1064" r="5.3"/></g>
<g id="n53-1042"><circle cx="347.3" cy="1084.3" r="5.3"/></g>
<g id="n54-1042"><circle cx="347.3" cy="1104.6" r="5.3"/></g>
<g id="n55-1142"><circle cx="380.7" cy="1124.9" r="5.3"/></g>
<g id="n56-1142"><circle cx="380.7" cy="1145.1" r="5.3"/></g>
<g id="n57-1142"><circle cx="380.7" cy="1165.4" r="5.3"/></g>
<g id="n58-1142"><circle cx="380.7" cy="1185.7" r="5.3"/></g>
<g id="n59-1142"><circle cx="380.7" cy="1205.9" r="5.3"/></g>
<g id="n60-1142"><circle cx="380.7" cy="1226.2" r="5.3"/></g>
<g id="n61-1142"><circle cx="380.7" cy="1246.5" r="5.3"/></g>
<g id="n62-1142"><circle cx="380.7" cy="1266.7" r="5.3"/></g>
<g id="n55-1042"><circle cx="347.3" cy="1124.9" r="5.3"/></g>
<g id="n56-1042"><circle cx="347.3" cy="1145.1" r="5.3"/></g>
<g id="n57-1042"><circle cx="347.3" cy="1165.4" r="5.3"/></g>
<g id="n58-1042"><circle cx="347.3" cy="1185.7" r="5.3"/></g>
<g id="n59-1042"><circle cx="347.3" cy="1205.9" r="5.3"/></g>
<g id="n60-1042"><circle cx="347.3" cy="1226.2" r="5.3"/></g>
<g id="n61-1042"><circle cx="347.3" cy="1246.5" r="5.3"/></g>
<g id="n62-1042"><circle cx="347.3" cy="1266.7" r="5.3"/></g>
<g id="n63-1078"><circle cx="359.3" cy="1287" r="5.3"/></g>
<g id="n64-1114"><circle cx="371.3" cy="1307.3" r="5.3"/></g>
<g id="n65-1130"><circle cx="376.7" cy="1327.6" r="5.3"/></g>
<g id="n66-1138"><circle cx="379.3" cy="1347.8" r="5.3"/></g>
<g id="n67-1138"><circle cx="379.3" cy="1368.1" r="5.3"/></g>
<g id="n68-1138"><circle cx="379.3" cy="1388.4" r="5.3"/></g>
<g id="n69-1138"><circle cx="379.3" cy="1408.6" r="5.3"/></g>
<g id="n70-1138"><circle cx="379.3" cy="1428.9" r="5.3"/></g>
<g id="n71-1138"><circle cx="379.3" cy="1449.2" r="5.3"/></g>
<g id="n72-1138"><circle cx="379.3" cy="1469.4" r="5.3"/></g>
<g id="n73-1138"><circle cx="379.3" cy="1489.7" r="5.3"/></g>
<g id="n74-1138"><circle cx="379.3" cy="1510" r="5.3"/></g>
<g id="n75-1126"><circle cx="375.3" cy="1530.3" r="5.3"/></g>
<g id="n76-1126"><circle cx="375.3" cy="1550.5" r="5.3"/></g>
<g id="n77-1026"><circle cx="342" cy="1570.8" r="5.3"/></g>
<g id="n78-1026"><circle cx="342" cy="1591.1" r="5.3"/></g>
<g id="n67-1266"><circle cx="422" cy="1368.1" r="5.3"/></g>
<g id="n68-1266"><circle cx="422" cy="1388.4" r="5.3"/></g>
<g id="n69-1366"><circle cx="455.3" cy="1408.6" r="5.3"/></g>
<g id="n70-1366"><circle cx="455.3" cy="1428.9" r="5.3"/></g>
<g id="n71-1366"><circle cx="455.3" cy="1449.2" r="5.3"/></g>
<g id="n72-1366"><circle cx="455.3" cy="1469.4" r="5.3"/></g>
<g id="n69-1266"><circle cx="422" cy="1408.6" r="5.3"/></g>
<g id="n70-1266"><circle cx="422" cy="1428.9" r="5.3"/></g>
<g id="n71-1266"><circle cx="422" cy="1449.2" r="5.3"/></g>
<g id="n72-1266"><circle cx="422" cy="1469.4" r="5.3"/></g>
<g id="n73-1294"><circle cx="431.3" cy="1489.7" r="5.3"/></g>
<g id="n74-1322"><circle cx="440.7" cy="1510" r="5.3"/></g>
<g id="n75-1338"><circle cx="446" cy="1530.3" r="5.3"/></g>
<g id="n76-1346"><circle cx="448.7" cy="1550.5" r="5.3"/></g>
<g id="n77-1394"><circle cx="464.7" cy="1570.8" r="5.3"/></g>
<g id="n78-1418"><circle cx="472.7" cy="1591.1" r="5.3"/></g>
<g id="n79-1426"><circle cx="475.3" cy="1611.3" r="5.3"/></g>
<g id="n80-1426"><circle cx="475.3" cy="1631.6" r="5.3"/></g>
<g id="n81-1426"><circle cx="475.3" cy="1651.9" r="5.3"/></g>
<g id="n82-1426"><circle cx="475.3" cy="1672.1" r="5.3"/></g>
<g id="n83-1426"><circle cx="475.3" cy="1692.4" r="5.3"/></g>
<g id="n84-1426"><circle cx="475.3" cy="1712.7" r="5.3"/></g>
<g id="n85-1426"><circle cx="475.3" cy="1733" r="5.3"/></g>
<g id="n86-1426"><circle cx="475.3" cy="1753.2" r="5.3"/></g>
<g id="n87-1426"><circle cx="475.3" cy="1773.5" r="5.3"/></g>
<g id="n88-1426"><circle cx="475.3" cy="1793.8" r="5.3"/></g>
<g id="n75-1226"><circle cx="408.7" cy="1530.3" r="5.3"/></g>
<g id="n76-1226"><circle cx="408.7" cy="1550.5" r="5.3"/></g>
<g id="n77-1126"><circle cx="375.3" cy="1570.8" r="5.3"/></g>
<g id="n78-1126"><circle cx="375.3" cy="1591.1" r="5.3"/></g>
<g id="n79-1126"><circle cx="375.3" cy="1611.3" r="5.3"/></g>
<g id="n80-1126"><circle cx="375.3" cy="1631.6" r="5.3"/></g>
<g id="n81-1026"><circle cx="342" cy="1651.9" r="5.3"/></g>
<g id="n82-1026"><circle cx="342" cy="1672.1" r="5.3"/></g>
<g id="n83-926"><circle cx="308.7" cy="1692.4" r="5.3"/></g>
<g id="n84-926"><circle cx="308.7" cy="1712.7" r="5.3"/></g>
<g id="n85-926"><circle cx="308.7" cy="1733" r="5.3"/></g>
<g id="n86-926"><circle cx="308.7" cy="1753.2" r="5.3"/></g>
<g id="n87-826"><circle cx="275.3" cy="1773.5" r="5.3"/></g>
<g id="n88-826"><circle cx="275.3" cy="1793.8" r="5.3"/></g>
<g id="n87-926"><circle cx="308.7" cy="1773.5" r="5.3"/></g>
<g id="n88-926"><circle cx="308.7" cy="1793.8" r="5.3"/></g>
<g id="n89-926"><circle cx="308.7" cy="1814" r="5.3"/></g>
<g id="n90-926"><circle cx="308.7" cy="1834.3" r="5.3"/></g>
<g id="n81-1126"><circle cx="375.3" cy="1651.9" r="5.3"/></g>
<g id="n82-1126"><circle cx="375.3" cy="1672.1" r="5.3"/></g>
<g id="n83-1026"><circle cx="342" cy="1692.4" r="5.3"/></g>
<g id="n84-1026"><circle cx="342" cy="1712.7" r="5.3"/></g>
<g id="n85-1026"><circle cx="342" cy="1733" r="5.3"/></g>
<g id="n86-1026"><circle cx="342" cy="1753.2" r="5.3"/></g>
<g id="n87-1026"><circle cx="342" cy="1773.5" r="5.3"/></g>
<g id="n88-1026"><circle cx="342" cy="1793.8" r="5.3"/></g>
<g id="n89-1026"><circle cx="342" cy="1814" r="5.3"/></g>
<g id="n90-1026"><circle cx="342" cy="1834.3" r="5.3"/></g>
<g id="n91-1026"><circle cx="342" cy="1854.6" r="5.3"/></g>
<g id="n92-1026"><circle cx="342" cy="1874.8" r="5.3"/></g>
<g id="n93-1026"><circle cx="342" cy="1895.1" r="5.3"/></g>
<g id="n94-1026"><circle cx="342" cy="1915.4" r="5.3"/></g>
<g id="n95-1026"><circle cx="342" cy="1935.7" r="5.3"/></g>
<g id="n96-1026"><circle cx="342" cy="1955.9" r="5.3"/></g>
<g id="n97-1026"><circle cx="342" cy="1976.2" r="5.3"/></g>
<g id="n98-1026"><circle cx="342" cy="1996.5" r="5.3"/></g>
<g id="n83-1126"><circle cx="375.3" cy="1692.4" r="5.3"/></g>
<g id="n84-1126"><circle cx="375.3" cy="1712.7" r="5.3"/></g>
<g id="n85-1126"><circle cx="375.3" cy="1733" r="5.3"/></g>
<g id="n86-1126"><circle cx="375.3" cy="1753.2" r="5.3"/></g>
<g id="n83-1226"><circle cx="408.7" cy="1692.4" r="5.3"/></g>
<g id="n84-1226"><circle cx="408.7" cy="1712.7" r="5.3"/></g>
<g id="n87-1174"><circle cx="391.3" cy="1773.5" r="5.3"/></g>
<g id="n88-1202"><circle cx="400.7" cy="1793.8" r="5.3"/></g>
<g id="n89-1126"><circle cx="375.3" cy="1814" r="5.3"/></g>
<g id="n90-1126"><circle cx="375.3" cy="1834.3" r="5.3"/></g>
<g id="n91-1126"><circle cx="375.3" cy="1854.6" r="5.3"/></g>
<g id="n92-1126"><circle cx="375.3" cy="1874.8" r="5.3"/></g>
<g id="n89-1226"><circle cx="408.7" cy="1814" r="5.3"/></g>
<g id="n90-1226"><circle cx="408.7" cy="1834.3" r="5.3"/></g>
<g id="n91-1226"><circle cx="408.7" cy="1854.6" r="5.3"/></g>
<g id="n92-1226"><circle cx="408.7" cy="1874.8" r="5.3"/></g>
<g id="n91-1326"><circle cx="442" cy="1854.6" r="5.3"/></g>
<g id="n92-1326"><circle cx="442" cy="1874.8" r="5.3"/></g>
<g id="n93-1326"><circle cx="442" cy="1895.1" r="5.3"/></g>
<g id="n94-1326"><circle cx="442" cy="1915.4" r="5.3"/></g>
<g id="n89-1326"><circle cx="442" cy="1814" r="5.3"/></g>
<g id="n90-1326"><circle cx="442" cy="1834.3" r="5.3"/></g>
<g id="n77-1226"><circle cx="408.7" cy="1570.8" r="5.3"/></g>
<g id="n78-1226"><circle cx="408.7" cy="1591.1" r="5.3"/></g>
<g id="n79-1226"><circle cx="408.7" cy="1611.3" r="5.3"/></g>
<g id="n80-1226"><circle cx="408.7" cy="1631.6" r="5.3"/></g>
<g id="n81-1226"><circle cx="408.7" cy="1651.9" r="5.3"/></g>
<g id="n82-1226"><circle cx="408.7" cy="1672.1" r="5.3"/></g>
<g id="n79-1326"><circle cx="442" cy="1611.3" r="5.3"/></g>
<g id="n80-1326"><circle cx="442" cy="1631.6" r="5.3"/></g>
<g id="n81-1326"><circle cx="442" cy="1651.9" r="5.3"/></g>
<g id="n82-1326"><circle cx="442" cy="1672.1" r="5.3"/></g>
<g id="n83-1326"><circle cx="442" cy="1692.4" r="5.3"/></g>
<g id="n84-1326"><circle cx="442" cy="1712.7" r="5.3"/></g>
<g id="n85-1326"><circle cx="442" cy="1733" r="5.3"/></g>
<g id="n86-1326"><circle cx="442" cy="1753.2" r="5.3"/></g>
<g id="n87-1326"><circle cx="442" cy="1773.5" r="5.3"/></g>
<g id="n88-1326"><circle cx="442" cy="1793.8" r="5.3"/></g>
</g>
</svg>
